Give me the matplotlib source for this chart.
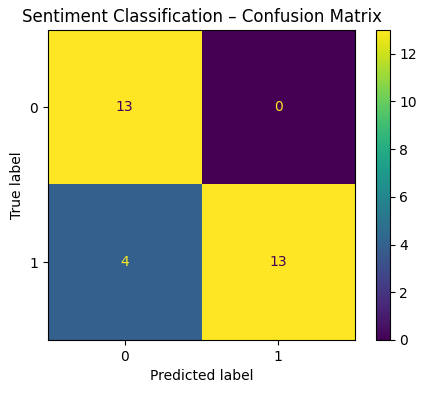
import numpy as np
import matplotlib
matplotlib.use("Agg")
import matplotlib.pyplot as plt

labels = ["0", "1"]
cm = np.array([[13, 0],
               [4, 13]])

fig = plt.figure(figsize=(4.32, 3.93), dpi=100)
ax = fig.add_axes([0.111, 0.135, 0.711, 0.789])
cax = fig.add_axes([0.870, 0.135, 0.032, 0.789])

cmap = plt.get_cmap("viridis")
im = ax.imshow(cm, interpolation="nearest", cmap=cmap, aspect="auto")
fig.colorbar(im, cax=cax)

thresh = (cm.max() + cm.min()) / 2.0
for i in range(cm.shape[0]):
    for j in range(cm.shape[1]):
        color = cmap(0) if cm[i, j] > thresh else cmap(1.0)
        ax.text(j, i, str(cm[i, j]), ha="center", va="center", color=color)

ax.set_xticks(range(len(labels)))
ax.set_xticklabels(labels)
ax.set_yticks(range(len(labels)))
ax.set_yticklabels(labels)
ax.set_xlabel("Predicted label")
ax.set_ylabel("True label")
ax.set_title("Sentiment Classification \u2013 Confusion Matrix")

fig.savefig("out.png", dpi=100)
